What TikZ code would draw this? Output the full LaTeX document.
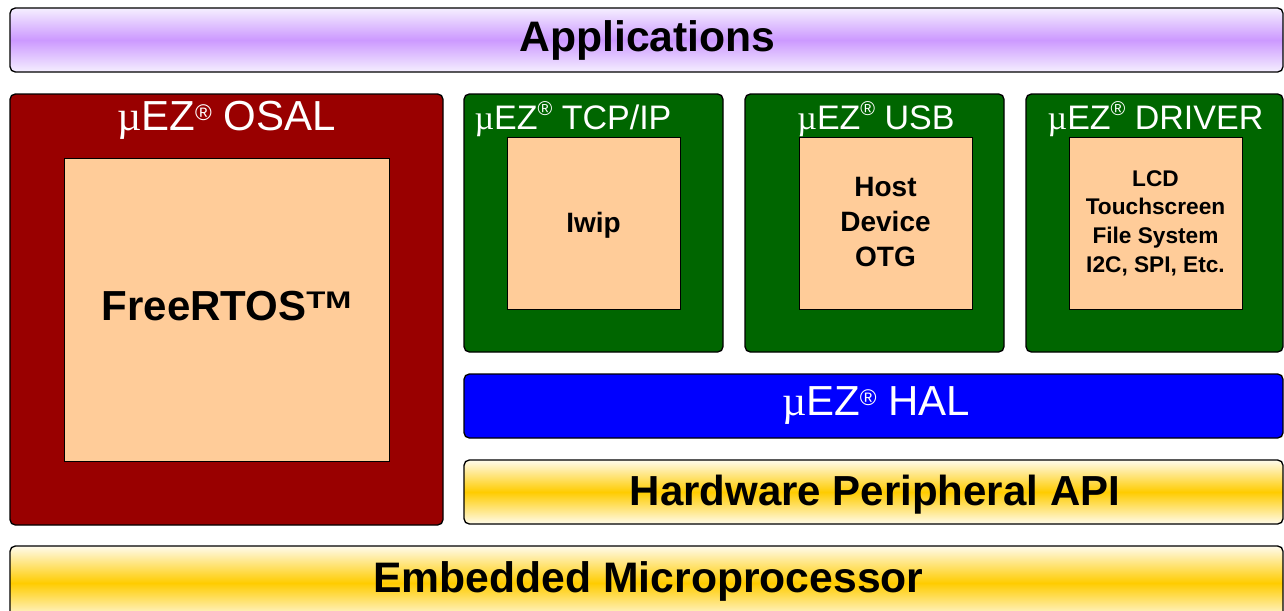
\documentclass[tikz,border=0pt]{standalone}
\usepackage{fontspec}
\usepackage{graphicx}
\setmainfont{Liberation Sans}
\newfontfamily\mufont{Liberation Serif}
\usetikzlibrary{fit}
\definecolor{osalred}{RGB}{153,0,0}
\definecolor{modgreen}{RGB}{0,102,0}
\definecolor{halblue}{RGB}{0,0,255}
\definecolor{peach}{RGB}{255,204,153}
\definecolor{purp}{RGB}{204,153,255}
\definecolor{lav}{RGB}{245,239,255}
\definecolor{gold}{RGB}{255,204,0}
\definecolor{cream}{RGB}{255,251,236}
\newcommand{\rmk}[2]{\raisebox{#2}{\fontsize{#1}{#1}\selectfont\char"00AE}}
\newcommand{\mymu}{{\mufont\char"00B5}}
\newcommand{\tmk}{\raisebox{9pt}{\scalebox{1.3}[1]{\fontsize{18}{18}\selectfont\bfseries TM}}}
\tikzset{
  layer/.style={draw=black, line width=1pt, rounded corners=4pt, inner sep=0pt},
  core/.style={draw=black, line width=0.7pt, fill=peach, inner sep=0pt},
  purpbar/.style={layer, top color=lav, bottom color=lav, middle color=purp},
  goldbar/.style={layer, top color=cream, bottom color=cream, middle color=gold},
  bigbold/.style={font={\fontsize{31.5}{36}\selectfont\bfseries}, inner sep=0pt},
  bigreg/.style={text=white, font={\fontsize{31.5}{36}\selectfont}, inner sep=0pt, anchor=base},
  ttl/.style={text=white, font={\fontsize{25.5}{30}\selectfont}, inner sep=0pt, anchor=base},
  inb/.style={font={\fontsize{21}{26}\selectfont\bfseries}, inner sep=0pt, align=center},
}
\begin{document}
\begin{tikzpicture}[x=0.75pt,y=-0.75pt]
\useasboundingbox (0,0) rectangle (1284,610);
\clip (0,0) rectangle (1284,610);
% boxes
\node[purpbar, fit={(10,8) (1283,72)}] (app) {};
\node[layer, fill=osalred, fit={(10,94) (443,525)}] (osal) {};
\node[core, fit={(64,158) (389,461)}] (rtos) {};
\node[layer, fill=modgreen, fit={(464,94) (723,352)}] (tcp) {};
\node[core, fit={(507,137) (680,309)}] (lwip) {};
\node[layer, fill=modgreen, fit={(745,94) (1004,352)}] (usb) {};
\node[core, fit={(799,137) (972,309)}] (usbin) {};
\node[layer, fill=modgreen, fit={(1026,94) (1283,352)}] (drv) {};
\node[core, fit={(1069,137) (1242,309)}] (drvin) {};
\node[layer, fill=halblue, fit={(464,374) (1283,438)}] (hal) {};
\node[goldbar, fit={(464,460) (1283,524)}] (hw) {};
\node[goldbar, fit={(10,546) (1283,620)}] (mcu) {};
% texts
\node[bigbold, anchor=base, font={\fontsize{32}{36}\selectfont\bfseries}] (apptxt) at (647.5,51.5) {Applications};
\node[bigreg] (osaltxt) at (226.5,130) {\mymu EZ\rmk{17pt}{7.5pt} OSAL};
\node[bigbold, anchor=base] (rtostxt) at (226.5,320) {FreeRTOS\tmk};
\node[ttl] (tcptxt) at (573,129) {\mymu EZ\rmk{15pt}{10.5pt} TCP/IP};
\node[ttl] (usbtxt) at (876,129) {\mymu EZ\rmk{15pt}{10.5pt} USB};
\node[ttl] (drvtxt) at (1155.5,129) {\mymu EZ\rmk{15pt}{10.5pt} DRIVER};
\node[inb, anchor=base] (lwiptxt) at (593.5,232) {Iwip};
\node[inb] (usbintxt) at (885.5,222) {Host\\Device\\OTG};
\node[inb, font={\fontsize{17}{21.5}\selectfont\bfseries}] (drvintxt) at (1155.5,223) {LCD\\Touchscreen\\File System\\I2C, SPI, Etc.};
\node[bigreg] (haltxt) at (876,415) {\mymu EZ\rmk{17pt}{7.5pt} HAL};
\node[bigbold, anchor=base] (hwtxt) at (875,505) {Hardware Peripheral API};
\node[bigbold, anchor=base, font={\fontsize{32}{36}\selectfont\bfseries}] (mcutxt) at (648.5,592) {Embedded Microprocessor};
\end{tikzpicture}
\end{document}
